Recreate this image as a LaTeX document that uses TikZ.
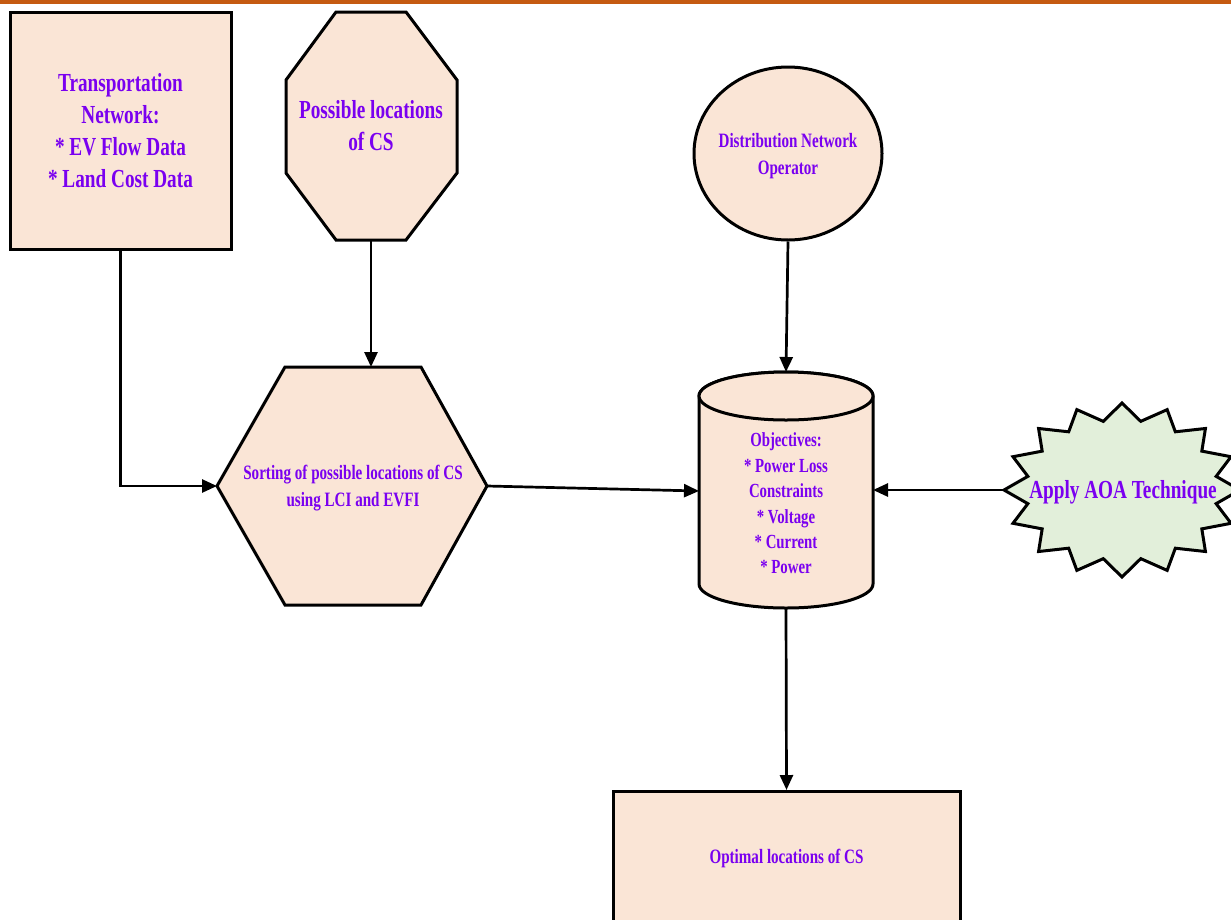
\documentclass[tikz,border=0pt]{standalone}
\usepackage{fontspec}
\newfontfamily\cf[FakeStretch=0.74]{Liberation Serif}
\usetikzlibrary{arrows.meta,shapes.geometric}
\definecolor{peach}{RGB}{250,229,214}
\definecolor{lgreen}{RGB}{226,239,218}
\definecolor{txt}{RGB}{122,0,240}
\definecolor{topline}{RGB}{197,90,17}
\begin{document}
\begin{tikzpicture}[x=1pt,y=-1pt,
  shp/.style={draw=black, fill=peach, line width=3pt, line join=miter},
  starsty/.style={draw=black, fill=lgreen, line width=3pt, line join=miter},
  lblbig/.style={text=txt, align=center, font=\cf\bfseries\fontsize{26}{32}\selectfont, inner sep=0pt},
  lblmid/.style={text=txt, align=center, font=\cf\bfseries\fontsize{20.4}{27}\selectfont, inner sep=0pt},
  lblcyl/.style={text=txt, align=center, font=\cf\bfseries\fontsize{20}{25.4}\selectfont, inner sep=0pt},
  lblstar/.style={text=txt, align=center, font=\cf\bfseries\fontsize{26}{30}\selectfont, inner sep=0pt},
  conn/.style={line width=2.7pt, -{Triangle[length=15pt,width=13pt]}}]
\useasboundingbox (0,0) rectangle (1231,919);
\clip (0,0) rectangle (1231,919);
\fill[topline] (0,0) rectangle (1231,3.5);

% Transportation network box
\node[shp, minimum width=221pt, minimum height=237pt, inner sep=0pt] (tn) at (120.5,130.5) {};
\node[lblbig] (tnt) at (120.5,131) {Transportation\\Network:\\* EV Flow Data\\* Land Cost Data};

% Octagon
\draw[shp] (336,12) -- (406,12) -- (457,80) -- (457,173) -- (406,240) -- (336,240) -- (286,173) -- (286,80) -- cycle;
\node[lblbig] (pl) at (371,126) {Possible locations\\of CS};
\coordinate (plS) at (371,240);

% Circle
\node[shp, ellipse, minimum width=188pt, minimum height=173pt, inner sep=0pt] (dno) at (788,153.5) {};
\node[lblmid] (dnot) at (788,156) {Distribution Network\\Operator};

% Hexagon
\draw[shp] (285,367) -- (421,367) -- (487,486) -- (421,605) -- (285,605) -- (217,486) -- cycle;
\node[lblmid] (sort) at (353,488) {Sorting of possible locations of CS\\using LCI and EVFI};
\coordinate (hexN) at (371,367);
\coordinate (hexW) at (217,486);
\coordinate (hexE) at (487,486);

% Cylinder
\draw[shp] (699,396) -- (699,584) arc[start angle=180, end angle=360, x radius=87pt, y radius=24pt] -- (873,396) arc[start angle=0, end angle=180, x radius=87pt, y radius=24pt] -- cycle;
\draw[shp] (786,396) ellipse[x radius=87pt, y radius=24pt];
\node[lblcyl] (obj) at (786,503.5) {Objectives:\\* Power Loss\\Constraints\\* Voltage\\* Current\\* Power};
\coordinate (cylN) at (786,372);
\coordinate (cylS) at (786,608);
\coordinate (cylW) at (699,491);
\coordinate (cylE) at (873,490);

% Star
\draw[starsty] ([shift={(1122,490)}]0:118pt and 87pt)
  \foreach \i in {0,...,15} { -- ([shift={(1122,490)}]{\i*22.5+11.25}:96pt and 70pt) -- ([shift={(1122,490)}]{\i*22.5+22.5}:118pt and 87pt) } -- cycle;
\node[lblstar] (aoa) at (1123,492) {Apply AOA Technique};
\coordinate (aoaW) at (1004,490);

% Bottom box
\node[shp, minimum width=347pt, minimum height=160pt, inner sep=0pt, anchor=north] (opt) at (786.5,790) {};
\node[lblmid] (optt) at (786.5,858) {Optimal locations of CS};

% Connectors
\draw[conn] (tn.south) |- (hexW);
\draw[conn] (plS) -- (hexN);
\draw[conn] (hexE) -- (cylW);
\draw[conn] (dno.south) -- (cylN);
\draw[conn] (aoaW) -- (cylE);
\draw[conn] (cylS) -- (opt.north);
\end{tikzpicture}
\end{document}
